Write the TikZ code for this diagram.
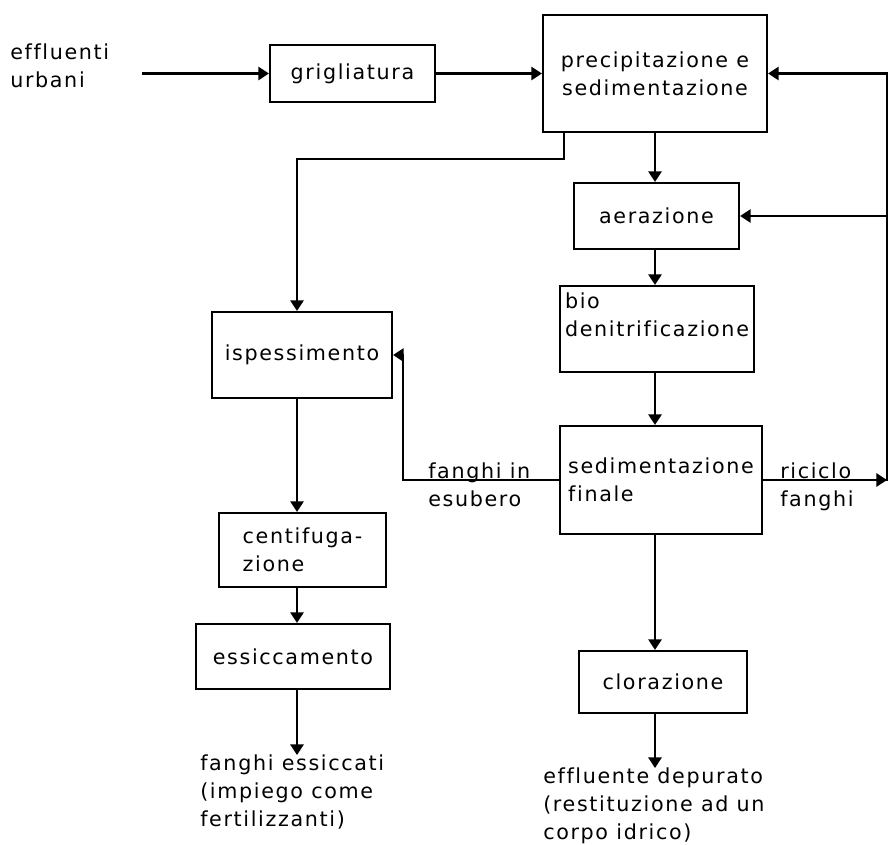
\documentclass[tikz,border=0pt]{standalone}
\usepackage{fontspec}
\setmainfont{DejaVu Sans}[LetterSpace=8,Ligatures=NoCommon]
\usetikzlibrary{arrows.meta,calc}

\newdimen\pixel
\pixel=0.75pt

\tikzset{
  box/.style={draw, line width=1.6pt, inner sep=0pt, align=center},
  note/.style={inner sep=0pt, align=left},
  flow/.style={line width=1.6pt, -{Triangle[width=10pt,length=8pt]}},
  pipe/.style={line width=1.6pt, line cap=rect}
}

\begin{document}
\begin{tikzpicture}[x=0.75pt,y=-0.75pt,every node/.style={font=\fontsize{15.5}{21}\selectfont}]
\useasboundingbox (0,0) rectangle (889,844);

% process units
\node[box, minimum width=165\pixel, minimum height=57\pixel] (grig) at (352.5,73.5) {grigliatura};
\node[box, minimum width=224\pixel, minimum height=117\pixel] (precip) at (655,73.5) {precipitazione e\\sedimentazione};
\node[box, minimum width=165\pixel, minimum height=66\pixel] (aer) at (656.5,216) {aerazione};
\node[box, align=left, minimum width=194\pixel, minimum height=86\pixel] (bio) at (657,329) {bio\\denitrificazione\\\mbox{}};
\node[box, align=left, minimum width=202\pixel, minimum height=108\pixel] (sed) at (661,480) {sedimentazione\\finale};
\node[box, minimum width=168\pixel, minimum height=62\pixel] (clor) at (663,682) {clorazione};
\node[box, minimum width=180\pixel, minimum height=86\pixel] (ispess) at (302,355) {ispessimento};
\node[box, align=left, minimum width=167\pixel, minimum height=74\pixel] (centi) at (302.5,550) {centifuga-\\zione};
\node[box, minimum width=194\pixel, minimum height=65\pixel] (essic) at (293,656.5) {essiccamento};

% inputs, outputs and line labels
\node[note, anchor=north west] (urban) at (10,44) {effluenti\\urbani};
\node[note, anchor=north west] (excess) at (428,463) {fanghi in\\esubero};
\node[note, anchor=north west] (recycle) at (780,463) {riciclo\\fanghi};
\node[note, anchor=north west] (dried) at (200,755) {fanghi essiccati\\(impiego come\\fertilizzanti)};
\node[note, anchor=north west] (clean) at (543,768) {effluente depurato\\(restituzione ad un\\corpo idrico)};

\coordinate (inlet) at (142,73.5);
\coordinate (raxis) at (655,0);
\coordinate (laxis) at (297,0);
\coordinate (ret) at (887,0);

% water line
\draw[flow] (inlet) -- (grig.west);
\draw[flow] (grig.east) -- (precip.west);
\draw[flow] (precip.south -| raxis) -- (aer.north -| raxis);
\draw[flow] (aer.south -| raxis) -- (bio.north -| raxis);
\draw[flow] (bio.south -| raxis) -- (sed.north -| raxis);
\draw[flow] (sed.south -| raxis) -- (clor.north -| raxis);
\draw[flow] (clor.south -| raxis) -- (clean.north -| raxis);

% sludge recycle
\draw[flow] (sed.east) -- (ret |- sed.east);
\draw[pipe] (ret |- sed.east) -- (ret |- precip.east);
\draw[flow] (ret |- precip.east) -- (precip.east);
\draw[flow] (ret |- aer.east) -- (aer.east);

% sludge line
\draw[flow] ($(precip.south west)+(22,0)$) -- ++(0,26) -| (laxis |- ispess.north);
\draw[flow] (sed.west) -- ++(-156,0) |- (ispess.east);
\draw[flow] (ispess.south -| laxis) -- (centi.north -| laxis);
\draw[flow] (centi.south -| laxis) -- (essic.north -| laxis);
\draw[flow] (essic.south -| laxis) -- (dried.north -| laxis);
\end{tikzpicture}
\end{document}
